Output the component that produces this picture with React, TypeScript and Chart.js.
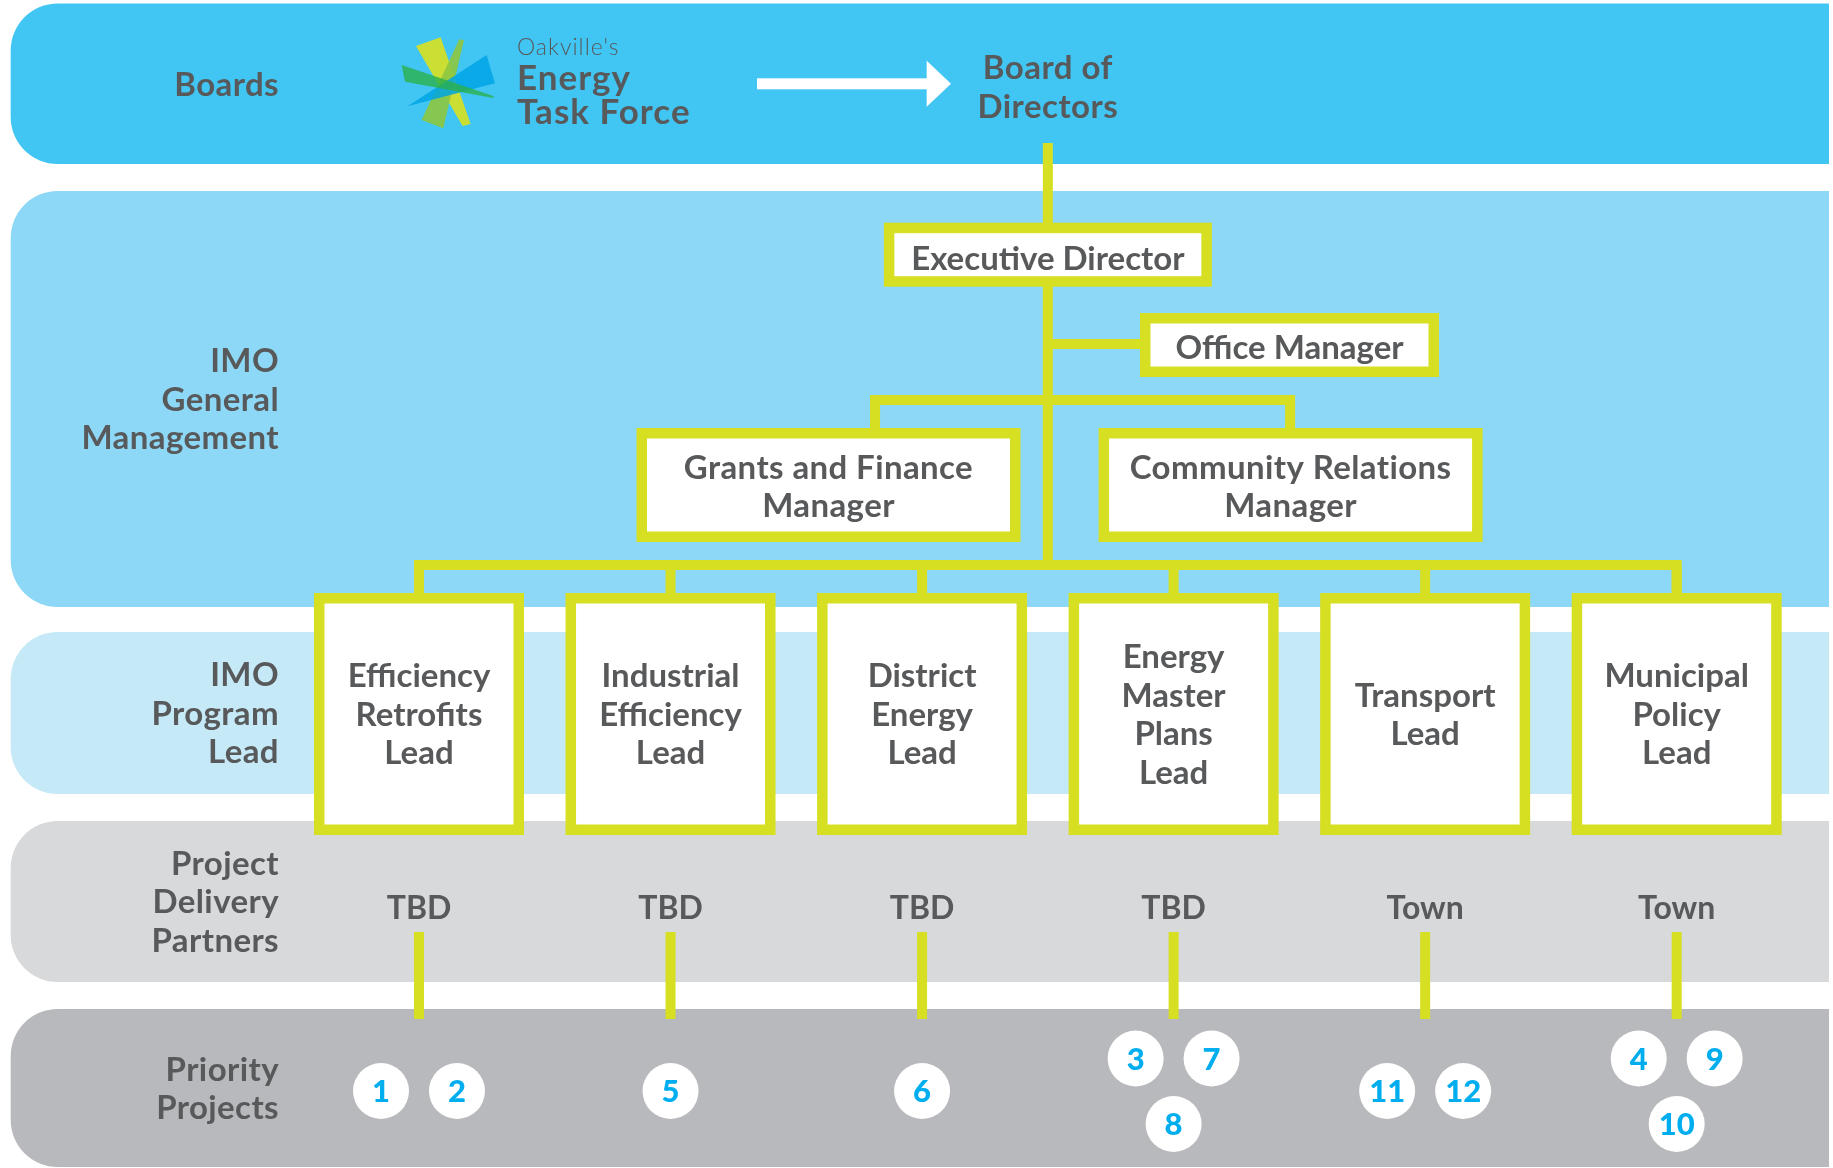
import React, { useEffect, useRef } from "react";
import { Chart, registerables } from "chart.js";

Chart.register(...registerables);

// ---------------- data ----------------
const rowLabels: string[][] = [
  ["Boards"],
  ["IMO", "General", "Management"],
  ["IMO", "Program", "Lead"],
  ["Project", "Delivery", "Partners"],
  ["Priority", "Projects"],
];
const rowTop = [3.5, 191, 632, 821, 1009];
const rowBottom = [164, 607, 794, 982, 1167];

const logoLines = ["Oakville's", "Energy", "Task Force"];
const boardTitle = ["Board of", "Directors"];
const executiveTitle = ["Executive Director"];
const officeTitle = ["Office Manager"];
const managerTitles: string[][] = [
  ["Grants and Finance", "Manager"],
  ["Community Relations", "Manager"],
];
const managerColumn = [1.628, 3.465];
const managerDropColumn = [1.813, 3.463];

const leadTitles: string[][] = [
  ["Efficiency", "Retrofits", "Lead"],
  ["Industrial", "Efficiency", "Lead"],
  ["District", "Energy", "Lead"],
  ["Energy", "Master", "Plans", "Lead"],
  ["Transport", "Lead"],
  ["Municipal", "Policy", "Lead"],
];
const leadColumn = [0, 1, 2, 3, 4, 5];
const partners = ["TBD", "TBD", "TBD", "TBD", "Town", "Town"];
const priorityProjects: number[][] = [[1, 2], [5], [6], [3, 7, 8], [11, 12], [4, 9, 10]];

// positions (column units for x, row units for y)
const X_MIN = -1.6657;
const X_MAX = 5.6214;
const BAND_LEFT = -1.6232;
const BAND_RIGHT = 5.6055;
const LABEL_X = -0.5566;
const LOGO_X = 0.1165;
const LOGO_TEXT_X = 0.3896;
const ARROW_START = 1.3437;
const ARROW_NECK = 2.0184;
const ARROW_TIP = 2.115;
const CENTER_COL = 2.5;
const OFFICE_COL = 3.4607;
const PAIR_OFFSET = 0.151;

const Y_ARROW = 83.8;
const Y_LOGO = 85;
const Y_LOGO_LINES = [55, 90, 124];
const Y_BOARD = 86.5;
const Y_MAIN_TOP = 143;
const Y_EXEC = 254.7;
const Y_OFFICE = 345;
const Y_MANAGER_BAR = 400;
const Y_MANAGER = 485;
const Y_LEAD_BAR = 565;
const Y_LEAD = 714;
const Y_PARTNER = 907;
const Y_STUB_TOP = 932;
const Y_STUB_BOTTOM = 1019;
const Y_PROJECT = 1091;
const Y_PROJECT_UP = 32.5;
const Y_PROJECT_DOWN = 33;

// ---------------- styles ----------------
const rowColors = ["#41c6f4", "#8dd8f6", "#c6e9f8", "#d8d9db", "#b8b9bc"];
const GREEN = "#d6df21";
const TEXT = "#58595b";
const NUM = "#00aeef";
const FONT = "Lato, 'Open Sans', sans-serif";
const LINE_W = 10;
const BORDER = 10.5;
const LH = 38.5;

type Pt = { x: number; y: number; n: number };
const circlePoints: Pt[] = [];
priorityProjects.forEach((group, i) => {
  const c = leadColumn[i];
  if (group.length === 1) circlePoints.push({ x: c, y: Y_PROJECT, n: group[0] });
  else if (group.length === 2) {
    circlePoints.push({ x: c - PAIR_OFFSET, y: Y_PROJECT, n: group[0] });
    circlePoints.push({ x: c + PAIR_OFFSET, y: Y_PROJECT, n: group[1] });
  } else {
    circlePoints.push({ x: c - PAIR_OFFSET, y: Y_PROJECT - Y_PROJECT_UP, n: group[0] });
    circlePoints.push({ x: c + PAIR_OFFSET, y: Y_PROJECT - Y_PROJECT_UP, n: group[1] });
    circlePoints.push({ x: c, y: Y_PROJECT + Y_PROJECT_DOWN, n: group[2] });
  }
});

function drawLines(
  ctx: CanvasRenderingContext2D,
  lines: string[],
  x: number,
  cy: number,
  size: number,
  align: CanvasTextAlign,
  color: string,
  weight = "bold",
  spacing = "0px"
) {
  ctx.save();
  ctx.font = `${weight} ${size}px ${FONT}`;
  (ctx as any).letterSpacing = spacing;
  ctx.fillStyle = color;
  ctx.textAlign = align;
  ctx.textBaseline = "alphabetic";
  const start = cy - ((lines.length - 1) * LH) / 2 + 0.36 * size;
  lines.forEach((l, i) => ctx.fillText(l, x, start + i * LH));
  ctx.restore();
}

function box(ctx: CanvasRenderingContext2D, cx: number, cy: number, w: number, h: number) {
  ctx.fillStyle = GREEN;
  ctx.fillRect(cx - w / 2, cy - h / 2, w, h);
  ctx.fillStyle = "#ffffff";
  ctx.fillRect(cx - w / 2 + BORDER, cy - h / 2 + BORDER, w - 2 * BORDER, h - 2 * BORDER);
}

const orgPlugin = {
  id: "orgChart",
  beforeDatasetsDraw(chart: any) {
    const { ctx, scales } = chart;
    const X = (v: number) => scales.x.getPixelForValue(v);
    const Y = (v: number) => scales.y.getPixelForValue(v);

    // bands
    rowLabels.forEach((_, i) => {
      const L = X(BAND_LEFT), R = X(BAND_RIGHT), T = Y(rowTop[i]), B = Y(rowBottom[i]);
      const r = 47;
      ctx.beginPath();
      ctx.moveTo(L + r, T);
      ctx.lineTo(R, T);
      ctx.lineTo(R, B);
      ctx.lineTo(L + r, B);
      ctx.arcTo(L, B, L, B - r, r);
      ctx.lineTo(L, T + r);
      ctx.arcTo(L, T, L + r, T, r);
      ctx.closePath();
      ctx.fillStyle = rowColors[i];
      ctx.fill();
    });

    // row labels
    rowLabels.forEach((lines, i) => {
      drawLines(ctx, lines, X(LABEL_X), (Y(rowTop[i]) + Y(rowBottom[i])) / 2, 33, "right", TEXT, "bold", "0.4px");
    });

    // logo
    const lx = X(LOGO_X), ly = Y(Y_LOGO);
    const wedges: [string, number[][]][] = [
      ["rgba(215,223,35,0.92)", [[-32.3, -39], [-7.7, -47.7], [22.3, 39], [14.3, 41]]],
      ["rgba(141,198,63,0.9)", [[11, -45.7], [15.7, -45], [-5, 43.3], [-26.7, 35]]],
      ["rgba(0,164,228,0.85)", [[38.3, -30], [46.7, -1.7], [-40, 21], [-42.3, 22.3]]],
      ["rgba(43,176,74,0.8)", [[-46.7, -20], [-43.3, -3.3], [45, 13], [45, 11]]],
    ];
    wedges.forEach(([col, pts]) => {
      ctx.beginPath();
      pts.forEach(([dx, dy], k) => (k ? ctx.lineTo(lx + dx, ly + dy) : ctx.moveTo(lx + dx, ly + dy)));
      ctx.closePath();
      ctx.fillStyle = col;
      ctx.fill();
    });
    ctx.save();
    ctx.fillStyle = TEXT;
    ctx.textAlign = "left";
    ctx.textBaseline = "alphabetic";
    (ctx as any).letterSpacing = "1px";
    ctx.font = `300 23px ${FONT}`;
    ctx.fillText(logoLines[0], X(LOGO_TEXT_X), Y(Y_LOGO_LINES[0]));
    ctx.font = `bold 35px ${FONT}`;
    ctx.fillText(logoLines[1], X(LOGO_TEXT_X), Y(Y_LOGO_LINES[1]));
    ctx.fillText(logoLines[2], X(LOGO_TEXT_X), Y(Y_LOGO_LINES[2]));
    ctx.restore();

    // arrow
    ctx.fillStyle = "#ffffff";
    ctx.fillRect(X(ARROW_START), Y(Y_ARROW) - 5.5, X(ARROW_NECK) - X(ARROW_START) + 1, 11);
    ctx.beginPath();
    ctx.moveTo(X(ARROW_NECK), Y(Y_ARROW) - 23);
    ctx.lineTo(X(ARROW_TIP), Y(Y_ARROW));
    ctx.lineTo(X(ARROW_NECK), Y(Y_ARROW) + 23);
    ctx.closePath();
    ctx.fill();

    drawLines(ctx, boardTitle, X(CENTER_COL), Y(Y_BOARD), 33, "center", TEXT, "bold", "0.5px");

    // connectors
    ctx.save();
    ctx.strokeStyle = GREEN;
    ctx.lineWidth = LINE_W;
    ctx.lineJoin = "miter";
    ctx.lineCap = "butt";
    const seg = (pts: number[][]) => {
      ctx.beginPath();
      pts.forEach(([a, b], k) => (k ? ctx.lineTo(X(a), Y(b)) : ctx.moveTo(X(a), Y(b))));
      ctx.stroke();
    };
    seg([[CENTER_COL, Y_MAIN_TOP], [CENTER_COL, Y_LEAD_BAR]]);
    seg([[CENTER_COL, Y_OFFICE - 1], [OFFICE_COL, Y_OFFICE - 1]]);
    seg([[managerDropColumn[0], Y_MANAGER], [managerDropColumn[0], Y_MANAGER_BAR], [managerDropColumn[1], Y_MANAGER_BAR], [managerDropColumn[1], Y_MANAGER]]);
    const first = leadColumn[0], last = leadColumn[leadColumn.length - 1];
    seg([[first, Y_LEAD], [first, Y_LEAD_BAR], [last, Y_LEAD_BAR], [last, Y_LEAD]]);
    leadColumn.forEach((c) => {
      seg([[c, Y_LEAD_BAR], [c, Y_LEAD]]);
      seg([[c, Y_STUB_TOP], [c, Y_STUB_BOTTOM]]);
    });
    ctx.restore();

    // boxes
    box(ctx, X(CENTER_COL), Y(Y_EXEC), 328, 64);
    drawLines(ctx, executiveTitle, X(CENTER_COL), Y(Y_EXEC + 3), 33, "center", TEXT);
    box(ctx, X(OFFICE_COL), Y(Y_OFFICE), 299, 64);
    drawLines(ctx, officeTitle, X(OFFICE_COL), Y(Y_OFFICE + 2), 33, "center", TEXT);
    managerTitles.forEach((t, i) => {
      box(ctx, X(managerColumn[i]), Y(Y_MANAGER), 384, 114);
      drawLines(ctx, t, X(managerColumn[i]), Y(Y_MANAGER + 1), 33, "center", TEXT, "bold", "0.4px");
    });
    leadTitles.forEach((t, i) => {
      box(ctx, X(leadColumn[i]), Y(Y_LEAD), 210, 242);
      drawLines(ctx, t, X(leadColumn[i]), Y(Y_LEAD), 33, "center", TEXT);
    });
    partners.forEach((p, i) => {
      drawLines(ctx, [p], X(leadColumn[i]), Y(Y_PARTNER), 32, "center", TEXT);
    });
  },
  afterDatasetsDraw(chart: any) {
    const { ctx, scales } = chart;
    ctx.save();
    ctx.fillStyle = NUM;
    ctx.font = `900 31px ${FONT}`;
    ctx.textAlign = "center";
    ctx.textBaseline = "alphabetic";
    circlePoints.forEach((p) => {
      ctx.fillText(String(p.n), scales.x.getPixelForValue(p.x), scales.y.getPixelForValue(p.y) + 11.2);
    });
    ctx.restore();
  },
};

export default function App() {
  const ref = useRef<HTMLCanvasElement>(null);
  useEffect(() => {
    const canvas = ref.current!;
    const chart = new Chart(canvas, {
      type: "scatter",
      data: {
        datasets: [
          {
            label: "Priority Projects",
            data: circlePoints as any,
            pointRadius: 28,
            pointHoverRadius: 28,
            pointBackgroundColor: "#ffffff",
            pointBorderColor: "#ffffff",
            pointBorderWidth: 0,
            clip: false as any,
          },
        ],
      },
      options: {
        responsive: false,
        maintainAspectRatio: false,
        animation: false,
        events: [],
        layout: { padding: 0, autoPadding: false } as any,
        plugins: { legend: { display: false }, tooltip: { enabled: false } },
        scales: {
          x: { type: "linear", display: false, min: X_MIN, max: X_MAX },
          y: { type: "linear", display: false, min: 0, max: 1168, reverse: true },
        },
      },
      plugins: [orgPlugin as any],
    });
    let alive = true;
    const fonts = (document as any).fonts;
    if (fonts && fonts.load) {
      Promise.all([
        fonts.load(`bold 33px Lato`),
        fonts.load(`300 23px Lato`),
        fonts.load(`900 31px Lato`),
      ])
        .then(() => alive && chart.update("none"))
        .catch(() => {});
    }
    return () => {
      alive = false;
      chart.destroy();
    };
  }, []);
  return (
    <div style={{ position: "absolute", left: 0, top: 0, width: 1833, height: 1168, background: "#ffffff" }}>
      <canvas ref={ref} width={1833} height={1168} style={{ display: "block", width: 1833, height: 1168 }} />
    </div>
  );
}
